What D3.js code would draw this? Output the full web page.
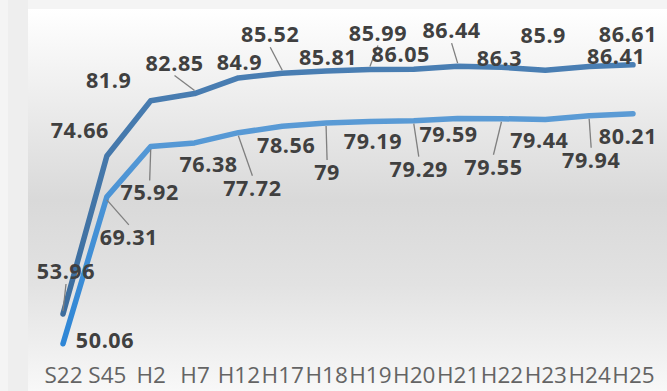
<!DOCTYPE html>
<html>
<head>
<meta charset="utf-8">
<script src="https://cdn.jsdelivr.net/npm/d3@7/dist/d3.min.js"></script>
<style>
  html, body { margin: 0; padding: 0; background: #f3f3f3; }
  svg { display: block; }
</style>
</head>
<body>
<script>
// Categories along the x axis
const categories = ["S22","S45","H2","H7","H12","H17","H18","H19","H20","H21","H22","H23","H24","H25"];

// Upper (dark) series
const seriesUpper = [53.96, 74.66, 81.9, 82.85, 84.9, 85.52, 85.81, 85.99, 86.05, 86.44, 86.3, 85.9, 86.41, 86.61];

// Lower (light) series
const seriesLower = [50.06, 69.31, 75.92, 76.38, 77.72, 78.56, 79, 79.19, 79.29, 79.59, 79.55, 79.44, 79.94, 80.21];

// Value-axis extent (axis itself is hidden)
const valueDomain = [50, 90];

// Data-label placement: [dx, dy of text centre/baseline relative to point, leader?]
const upperLabelLayout = [
  [3, -35, true], [-27, -18, false], [-42, -13, false], [-20, -23, true],
  [1, -8, false], [-12, -31, true], [2, -6, false], [8, -29, true],
  [-13, -7, false], [-6, -28, true], [-2, -1, false], [-2, -27, false],
  [27, -2, false], [-5, -23, false]
];
const lowerLabelLayout = [
  [42, 4, false], [22, 48, true], [-1, 54, true], [14, 29, false],
  [14, 63, true], [4, 27, false], [1, 57, true], [3, 28, false],
  [5, 56, true], [-9, 24, false], [-8, 56, true], [-6, 28, false],
  [2, 52, true], [-5, 30, false]
];

const W = 667, H = 391;
const svg = d3.select("body").append("svg").attr("width", W).attr("height", H);
const defs = svg.append("defs");

// Panel background gradient: white top, grey middle, light bottom
const bg = defs.append("linearGradient").attr("id", "panelBg")
  .attr("x1", 0).attr("y1", 0).attr("x2", 0).attr("y2", 1);
bg.append("stop").attr("offset", "0%").attr("stop-color", "#ffffff");
bg.append("stop").attr("offset", "50%").attr("stop-color", "#d9d9d9");
bg.append("stop").attr("offset", "72%").attr("stop-color", "#e2e2e2");
bg.append("stop").attr("offset", "100%").attr("stop-color", "#f8f8f8");

// Soft frame strip on the left
svg.append("rect").attr("x", 0).attr("y", 0).attr("width", W).attr("height", H).attr("fill", "#f4f4f4");
svg.append("rect").attr("x", 8).attr("y", 0).attr("width", 20).attr("height", H).attr("fill", "#eeeeee");
svg.append("rect").attr("x", 28).attr("y", 9).attr("width", W - 28).attr("height", H - 9).attr("fill", "url(#panelBg)");

const x = d3.scalePoint().domain(categories).range([63, 633]);
const y = d3.scaleLinear().domain(valueDomain).range([344.2, 39]);

// Stroke gradients for the two lines
const gUp = defs.append("linearGradient").attr("id", "strokeUpper")
  .attr("gradientUnits", "userSpaceOnUse").attr("x1", 0).attr("y1", y(88)).attr("x2", 0).attr("y2", y(52));
gUp.append("stop").attr("offset", "0%").attr("stop-color", "#4a7fb4");
gUp.append("stop").attr("offset", "100%").attr("stop-color", "#3c6c9c");
const gLo = defs.append("linearGradient").attr("id", "strokeLower")
  .attr("gradientUnits", "userSpaceOnUse").attr("x1", 0).attr("y1", y(80)).attr("x2", 0).attr("y2", y(50));
gLo.append("stop").attr("offset", "0%").attr("stop-color", "#5b9bd5");
gLo.append("stop").attr("offset", "100%").attr("stop-color", "#2e86d6");

const line = d3.line().x((d, i) => x(categories[i])).y(d => y(d));

// x axis labels
const xAxis = d3.axisBottom(x).tickSize(0).tickPadding(0);
const ax = svg.append("g").attr("transform", "translate(0,367)").call(xAxis);
ax.select(".domain").remove();
ax.selectAll("text")
  .attr("font-family", "'Open Sans', sans-serif")
  .attr("font-size", 22.5)
  .attr("fill", "#646464")
  .attr("dy", "0.71em");

function drawLabels(values, layout) {
  const g = svg.append("g");
  values.forEach((v, i) => {
    const px = x(categories[i]), py = y(v);
    const [dx, dy, leader] = layout[i];
    const tx = px + dx, ty = py + dy;
    if (leader) {
      // Leader from near the point to the edge of the label
      const above = dy < 0;
      const ly = above ? ty + 5 : ty - 20;
      g.append("line")
        .attr("x1", px).attr("y1", py + (above ? -3 : 3))
        .attr("x2", tx).attr("y2", ly)
        .attr("stroke", "#7f7f7f").attr("stroke-width", 1.3);
    }
    g.append("text")
      .attr("x", tx).attr("y", ty)
      .attr("text-anchor", "middle")
      .attr("font-family", "'Open Sans', sans-serif")
      .attr("font-weight", "bold")
      .attr("font-size", 21.5)
      .attr("letter-spacing", "0.6px")
      .attr("fill", "#404040")
      .text(v);
  });
}

svg.append("path").datum(seriesUpper)
  .attr("d", line).attr("fill", "none")
  .attr("stroke", "url(#strokeUpper)").attr("stroke-width", 5.5)
  .attr("stroke-linecap", "round").attr("stroke-linejoin", "round");
svg.append("path").datum(seriesLower)
  .attr("d", line).attr("fill", "none")
  .attr("stroke", "url(#strokeLower)").attr("stroke-width", 5.5)
  .attr("stroke-linecap", "round").attr("stroke-linejoin", "round");

drawLabels(seriesUpper, upperLabelLayout);
drawLabels(seriesLower, lowerLabelLayout);
</script>
</body>
</html>
